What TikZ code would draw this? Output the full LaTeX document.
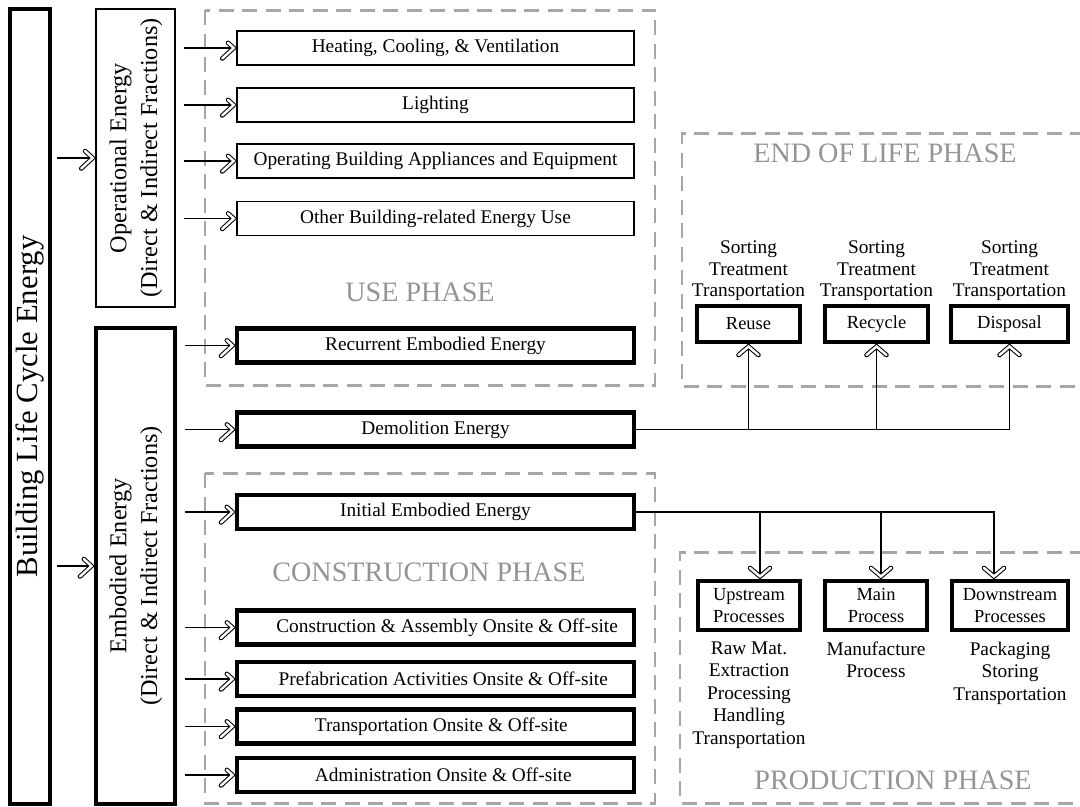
\documentclass[tikz,border=0pt]{standalone}
\usepackage{fontspec}
\setmainfont{Liberation Serif}
\usepackage{graphicx}
\usetikzlibrary{positioning,calc,decorations.markings}

\begin{document}
\begin{tikzpicture}[x=0.02cm, y=-0.02cm,
        rowbox/.style={rectangle, draw=black, line width=0.9pt, minimum height=34*0.02cm, minimum width=397*0.02cm, align=center, font=\fontsize{11}{13}\selectfont},
        boldbox/.style={rowbox, line width=2.3pt},
        sidebox/.style={rectangle, draw=black, line width=2.3pt, inner sep=0pt, minimum width=79*0.02cm, font=\fontsize{13.8}{17.5}\selectfont},
        stepbox/.style={rectangle, draw=black, line width=2.3pt, align=center, font=\fontsize{10.5}{12.5}\selectfont},
        note/.style={align=center, inner sep=1pt, font=\fontsize{11}{12.2}\selectfont},
        zone/.style={draw=black!35, line width=1.7pt, dash pattern=on 0.3cm off 0.17cm},
        phase/.style={text=black!42, font=\fontsize{16}{19}\selectfont},
        tipline/.style={draw=black, double=white, line width=0.6pt, double distance=1.4pt, line cap=round, line join=miter, solid},
        flow/.style={line width=0.7pt, postaction={decorate}, decoration={markings, mark=at position 1 with {\draw[tipline] (-0.28cm,0.21cm) -- (-0.05cm,0) -- (-0.28cm,-0.21cm);}}},
        vflow/.style={line width=0.7pt, postaction={decorate}, decoration={markings, mark=at position 1 with {\draw[tipline] (-0.22cm,0.2cm) -- (-0.05cm,0) -- (-0.22cm,-0.2cm);}}}
    ]

    \useasboundingbox (0,0) rectangle (1080,806);

    % Phase frames
    \draw[zone] (205,10) rectangle (655,385);
    \draw[zone] (205,473) rectangle (655,803);
    \draw[zone] (1085,133) -| (682,386) -- (1085,386);
    \draw[zone] (1085,552) -| (680,803) -- (1085,803);

    \node[phase] at (420,292) {USE PHASE};
    \node[phase] at (429,572) {CONSTRUCTION PHASE};
    \node[phase] at (885,153) {END OF LIFE PHASE};
    \node[phase] at (893,780) {PRODUCTION PHASE};

    % Left column
    \node[sidebox, minimum width=40*0.02cm, minimum height=795*0.02cm, font=\fontsize{17.5}{21}\selectfont] (blce) at (30,406.5) {\rotatebox{90}{Building Life Cycle Energy}};
    \node[sidebox, line width=0.9pt, minimum height=298*0.02cm] (oper) at (135.5,158) {\rotatebox{90}{\begin{tabular}{@{}c@{}}Operational Energy\\(Direct \& Indirect Fractions)\end{tabular}}};
    \node[sidebox, minimum height=476*0.02cm] (embod) at (135.5,566) {\rotatebox{90}{\begin{tabular}{@{}c@{}}Embodied Energy\\(Direct \& Indirect Fractions)\end{tabular}}};

    % Use phase rows
    \node[rowbox] (heat) at (435.5,48) {Heating, Cooling, \& Ventilation};
    \node[rowbox] (light) at (435.5,105) {Lighting};
    \node[rowbox] (appl) at (435.5,161) {Operating Building Appliances and Equipment};
    \node[rowbox] (other) at (435.5,218.5) {Other Building-related Energy Use};
    \node[boldbox] (recur) at (435.5,345.5) {Recurrent Embodied Energy};
    \node[boldbox] (demol) at (435.5,429.5) {Demolition Energy};

    % Construction phase rows
    \node[boldbox] (init) at (435.5,512) {Initial Embodied Energy};
    \node[boldbox] (constr) at (435.5,627.5) {\hspace{1.2em}Construction \& Assembly Onsite \& Off-site};
    \node[boldbox] (prefab) at (435.5,679) {\hspace{0.8em}Prefabrication Activities Onsite \& Off-site};
    \node[boldbox] (transp) at (435.5,726.5) {\hspace{0.6em}Transportation Onsite \& Off-site};
    \node[boldbox] (admin) at (435.5,775) {\hspace{0.8em}Administration Onsite \& Off-site};

    % End of life
    \node[stepbox, minimum width=103*0.02cm, minimum height=36*0.02cm] (reuse) at (748.5,324) {Reuse};
    \node[stepbox, minimum width=103*0.02cm, minimum height=36*0.02cm] (recyc) at (876.5,324) {Recycle};
    \node[stepbox, minimum width=117*0.02cm, minimum height=36*0.02cm] (dispo) at (1009.5,324) {Disposal};
    \foreach \n in {reuse,recyc,dispo}
        \node[note, above=0.7pt of \n] {Sorting\\Treatment\\Transportation};

    % Production
    \node[stepbox, minimum width=102*0.02cm, minimum height=49*0.02cm] (upstr) at (749,605.5) {Upstream\\Processes};
    \node[stepbox, minimum width=102*0.02cm, minimum height=49*0.02cm] (mainp) at (876,605.5) {Main\\Process};
    \node[stepbox, minimum width=116*0.02cm, minimum height=49*0.02cm] (downstr) at (1010,605.5) {Downstream\\Processes};
    \node[note, below=4.3pt of upstr, font=\fontsize{11}{12.8}\selectfont] {Raw Mat.\\Extraction\\Processing\\Handling\\Transportation};
    \node[note, below=4.3pt of mainp, font=\fontsize{11}{12.8}\selectfont] {Manufacture\\Process};
    \node[note, below=4.3pt of downstr, font=\fontsize{11}{12.8}\selectfont] {Packaging\\Storing\\Transportation};

    % Arrows from the life cycle box
    \draw[flow, shorten <=3pt] (blce.east |- oper.west) -- (oper.west);
    \draw[flow, shorten <=3pt] (blce.east |- embod.west) -- (embod.west);
    \foreach \n in {heat,light,appl,other}
        \draw[flow, shorten <=4.5pt] (oper.east |- \n.west) -- (\n.west);
    \foreach \n in {recur,demol,init,constr,prefab,transp,admin}
        \draw[flow, shorten <=4.5pt] (embod.east |- \n.west) -- (\n.west);

    % Demolition to end of life
    \draw[vflow] (demol.east) -| (dispo.south);
    \draw[vflow] (demol.east -| reuse.south) -- (reuse.south);
    \draw[vflow] (demol.east -| recyc.south) -- (recyc.south);

    % Initial embodied to production
    \coordinate (upin) at ([xshift=0.22cm]upstr.north);
    \coordinate (mainin) at ([xshift=0.1cm]mainp.north);
    \coordinate (downin) at ([xshift=-0.32cm]downstr.north);
    \draw[vflow] (init.east) -| (downin);
    \draw[vflow] (init.east -| upin) -- (upin);
    \draw[vflow] (init.east -| mainin) -- (mainin);

\end{tikzpicture}
\end{document}
